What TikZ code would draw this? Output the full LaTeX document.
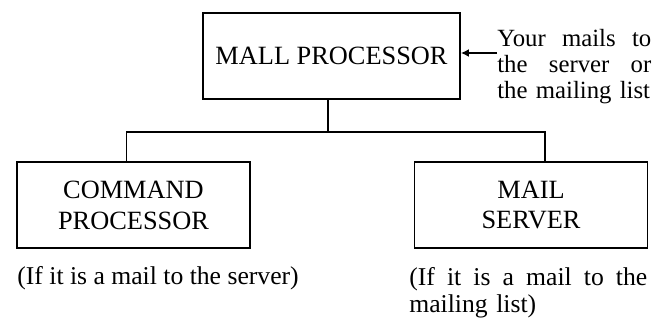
\documentclass[tikz,border=0pt]{standalone}
\usepackage{fontspec}
\setmainfont{Liberation Serif}
\usetikzlibrary{arrows.meta,positioning}

\begin{document}
\begin{tikzpicture}[x=0.02cm, y=-0.02cm,
  procbox/.style={draw, line width=1.1pt,
               minimum width=4.66cm, minimum height=1.72cm,
               font=\fontsize{15}{17.6}\selectfont, align=center, inner sep=0pt},
  note/.style={inner sep=0pt, font=\fontsize{14.6}{15}\selectfont, align=left},
  link/.style={line width=1.1pt},
  arr/.style={-{Latex[length=4.5pt,width=4.5pt]}, line width=0.8pt}]
\useasboundingbox (0,0) rectangle (654,327);
\node[procbox, minimum width=5.14cm] (mall) at (331.5,56) {MALL PROCESSOR};
\node[procbox] (cmd) at (133.5,205) {COMMAND\\PROCESSOR};
\node[procbox] (srv) at (531,205) {MAIL\\SERVER};
\node[note, text width=3.08cm, anchor=north west, font=\fontsize{14.1}{14.8}\selectfont]
  (input) at (497,29)
  {Your\hfill mails\hfill to\\the\hfill server\hfill or\\\mbox{the mailing list}};
\node[note, anchor=base west] (cmdnote) at (17,285) {(If it is a mail to the server)};
\node[note, text width=4.76cm, anchor=north west, font=\fontsize{14.6}{15.3}\selectfont]
  (srvnote) at (409,267) {(If\hfill it\hfill is\hfill a\hfill mail\hfill to\hfill the\\\mbox{mailing list)}};
\coordinate (split) at (328,132);
\draw[link] (mall.south -| split) -- (split);
\draw[link] ([xshift=-4pt]cmd.north) |- (split) -| ([xshift=8pt]srv.north);
\draw[arr] ([yshift=1.7pt]input.west |- mall.east) -- ([yshift=1.7pt]mall.east);
\end{tikzpicture}
\end{document}
